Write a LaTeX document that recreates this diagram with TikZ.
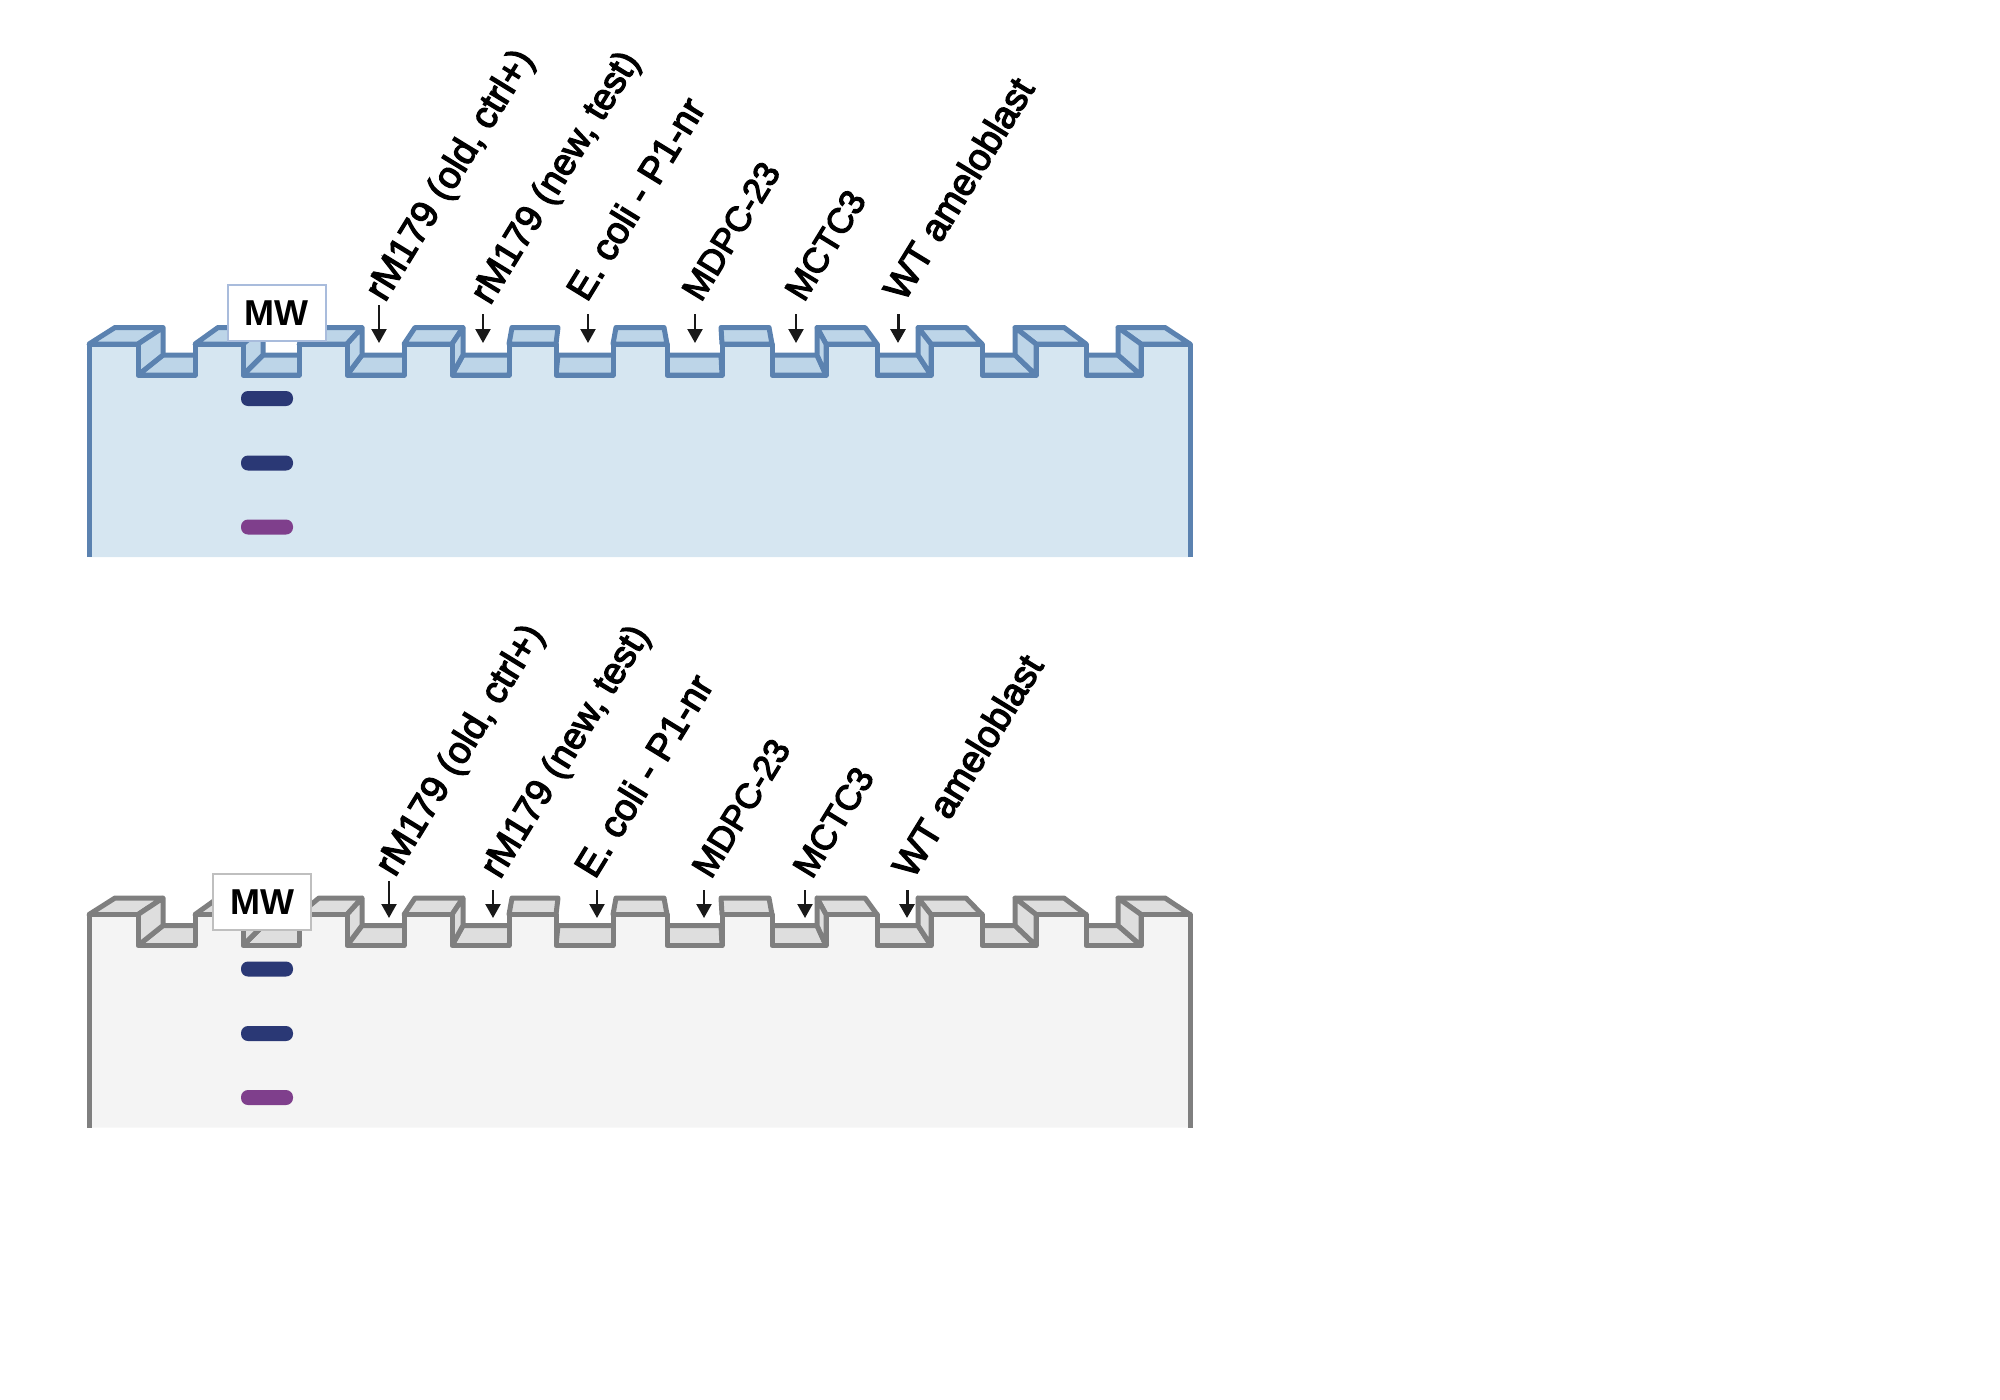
\documentclass[tikz,border=0pt]{standalone}
\usepackage{fontspec}
\setmainfont{Liberation Sans}
\newfontfamily\lanefont[FakeBold=3.5]{Liberation Sans}
\usetikzlibrary{arrows.meta}
\definecolor{bluest}{HTML}{5B82B0}
\definecolor{bluetop}{HTML}{BDD5E8}
\definecolor{blueface}{HTML}{D6E6F1}
\definecolor{bluebox}{HTML}{A9BCDC}
\definecolor{grayst}{HTML}{7F7F7F}
\definecolor{graytop}{HTML}{DEDEDE}
\definecolor{grayface}{HTML}{F4F4F4}
\definecolor{graybox}{HTML}{BFBFBF}
\definecolor{bandnavy}{HTML}{2A3875}
\definecolor{bandpurple}{HTML}{7F3F8C}
\tikzset{
  gelpart/.style={line width=5pt,line join=round},
  bandshape/.style={rounded corners=7pt},
  mwbox/.style={fill=white,line width=2pt,inner sep=0pt,minimum width=98pt,minimum height=56pt,font=\fontsize{36}{40}\selectfont\bfseries},
  lanelabel/.style={anchor=base west,rotate=58.5,inner sep=0pt,text=black},
  lanearrow/.style={draw=black!90,line width=2.2pt,-{Triangle[length=14pt,width=15pt]}},
}
\newcommand{\gelpanel}[3]{%
  \begin{scope}[yshift=-#1pt]
    \foreach \a/\b/\c/\d in {89/138/115/163,195/243/218/263,299/347/319/362,404/452/415/463,509/556/512/558,613/667/616/664,722/772/721/769,826/877/817/865,931/982/918/966,1036/1086/1015/1064,1141/1190/1118/1165}
      \draw[gelpart,draw=#2,fill=#3] (\a,344) -- (\b,344) -- (\d,327.5) -- (\c,327.5) -- cycle;
    \foreach \a/\b/\c/\d in {138/195/163/218,243/299/263/319,347/404/362/415,452/509/463/512,556/613/558/616,667/722/664/721,772/826/769/817,877/931/865/918,982/1036/966/1015,1086/1141/1064/1118}
      \draw[gelpart,draw=#2,fill=#3] (\a,375) -- (\b,375) -- (\d,355) -- (\c,355) -- cycle;
    \foreach \a/\c in {138/163,243/263,347/362,452/463,826/817,931/918,1036/1015,1141/1118}
      \draw[gelpart,draw=#2,fill=#3] (\a,344) -- (\c,327.5) -- (\c,355) -- (\a,375) -- cycle;
  \end{scope}
}
\newcommand{\gelface}[3]{%
  \begin{scope}[yshift=-#1pt]
    \path[gelpart,draw=#2,fill=#3] (89,557) -- (89,344) -- (138,344) -- (138,375) -- (195,375) -- (195,344) -- (243,344) -- (243,375) -- (299,375) -- (299,344) -- (347,344) -- (347,375) -- (404,375) -- (404,344) -- (452,344) -- (452,375) -- (509,375) -- (509,344) -- (556,344) -- (556,375) -- (613,375) -- (613,344) -- (667,344) -- (667,375) -- (722,375) -- (722,344) -- (772,344) -- (772,375) -- (826,375) -- (826,344) -- (877,344) -- (877,375) -- (931,375) -- (931,344) -- (982,344) -- (982,375) -- (1036,375) -- (1036,344) -- (1086,344) -- (1086,375) -- (1141,375) -- (1141,344) -- (1190,344) -- (1190,557);
    \foreach \yc/\col in {398.5/bandnavy,463/bandnavy,527/bandpurple}
      \fill[bandshape,fill=\col] (241,\yc-7.5) rectangle (293,\yc+7.5);
  \end{scope}
}
\begin{document}
\begin{tikzpicture}[x=1pt,y=-1pt]
\useasboundingbox (0,0) rectangle (2000,1400);
\gelpanel{0}{bluest}{bluetop}
\gelface{0}{bluest}{blueface}
\gelpanel{570.5}{grayst}{graytop}
\gelface{570.5}{grayst}{grayface}
\node[mwbox,draw=bluebox] (mwa) at (276.5,313) {MW};
\node[mwbox,draw=graybox] (mwb) at (262,902) {MW};
% upper labels
\foreach \n/\tx/\ty/\fs/\t in {a/385/303/37.7/{rM179 (old, ctrl+)},b/490/306/37.2/{rM179 (new, test)},c/587/303/37.7/{E. coli - P1-nr},d/701/303/35/{MDPC-23},e/804/303/35/{MCTC3},f/904/303/37.7/{WT ameloblast}}
  \node[lanelabel,font=\fontsize{\fs}{42}\lanefont\selectfont] (up\n) at (\tx,\ty) {\t};
\foreach \n/\ax/\ay/\lw in {a/379/305/2.2,b/483/314/2.2,c/588/314/2.2,d/695/314/2.2,e/796/314/2.2,f/898/314/3}{
  \coordinate (ups\n) at (\ax,\ay);
  \coordinate (upe\n) at (\ax,343);
  \draw[lanearrow,line width=\lw pt] (ups\n) -- (upe\n);
}
% lower labels
\foreach \n/\tx/\ty/\fs/\t in {a/395/878/37.7/{rM179 (old, ctrl+)},b/500/880/37.2/{rM179 (new, test)},c/595/880/37.7/{E. coli - P1-nr},d/711/880/35/{MDPC-23},e/812/880/35/{MCTC3},f/913/880/37.7/{WT ameloblast}}
  \node[lanelabel,font=\fontsize{\fs}{42}\lanefont\selectfont] (lo\n) at (\tx,\ty) {\t};
\foreach \n/\ax/\ay/\lw in {a/389/881/2.2,b/493/890/2.2,c/597/890/2.2,d/704/890/2.2,e/805/890/2.2,f/907/890/3}{
  \coordinate (los\n) at (\ax,\ay);
  \coordinate (loe\n) at (\ax,918);
  \draw[lanearrow,line width=\lw pt] (los\n) -- (loe\n);
}
\end{tikzpicture}
\end{document}
